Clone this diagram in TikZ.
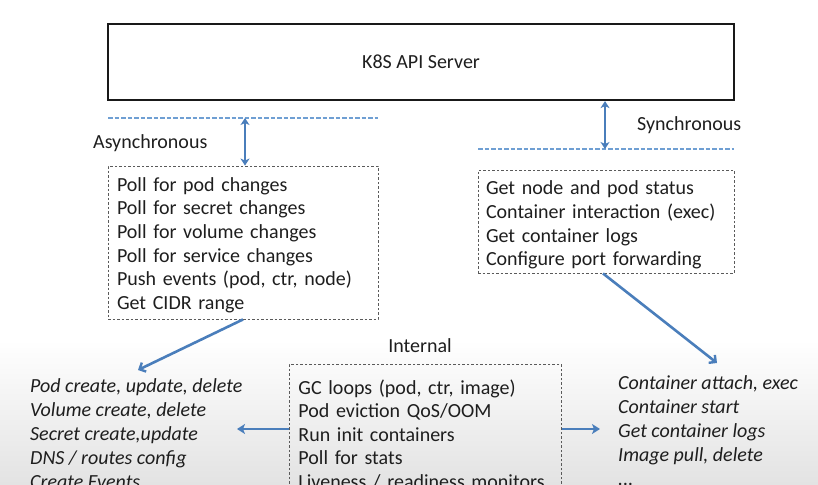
\documentclass[tikz,border=0pt]{standalone}
\usepackage{fontspec}
\setmainfont{Carlito}
\usetikzlibrary{arrows.meta}
\definecolor{arrblue}{HTML}{4A7EBB}
\definecolor{dashblue}{HTML}{6F9FD3}
\definecolor{boxgray}{HTML}{5A5A5A}
\definecolor{txt}{HTML}{1E1E1E}
\begin{document}
\begin{tikzpicture}[x=1pt,y=-1pt,
  every node/.style={text=txt, font=\fontsize{20}{23.6}\selectfont},
  apibox/.style={draw=black!90, line width=2.2pt, minimum width=626pt, minimum height=76pt, inner sep=0pt},
  dbox/.style={draw=boxgray, line width=0.9pt, dash pattern=on 2.5pt off 2pt, align=left, inner ysep=0pt},
  bline/.style={draw=dashblue, line width=2.8pt, dash pattern=on 4.5pt off 2pt},
  arr/.style={draw=arrblue, line width=2.6pt, -{Straight Barb[length=5pt,width=10pt,line width=2.4pt]}},
  harr/.style={draw=arrblue, line width=2.8pt, -{Stealth[length=8pt,width=10pt,inset=2pt]}},
  darr/.style={draw=arrblue, line width=2.4pt, {Stealth[length=7pt,width=9pt,inset=2pt]}-{Stealth[length=7pt,width=9pt,inset=2pt]}},
  lbl/.style={anchor=west, inner sep=0pt},
  ilist/.style={anchor=north west, inner sep=0pt, align=left, font=\fontsize{20}{24}\selectfont\itshape}
]
\useasboundingbox (0,0) rectangle (818,484);
\fill[top color=white, bottom color=black!11, draw=none] (0,340) rectangle (818,484);

% API server
\node[apibox] (api) at (421,62) {K8S API Server};

% asynchronous side
\coordinate (asl) at (108,118);
\coordinate (asr) at (378,118);
\coordinate (asm) at (245,118);
\draw[bline] (asl) -- (asr);
\node[lbl] (async) at (93,143) {Asynchronous};
\node[dbox, minimum width=270pt, minimum height=153pt, text width=252pt, inner xsep=9pt] (poll) at (243,242.5)
  {\rule{0pt}{19pt}Poll for pod changes\\Poll for secret changes\\Poll for volume changes\\Poll for service changes\\Push events (pod, ctr, node)\\Get CIDR range};
\draw[darr] (asm) -- (asm |- poll.north);

% synchronous side
\coordinate (ssl) at (478,149);
\coordinate (ssr) at (734,149);
\coordinate (ssm) at (605,149);
\draw[bline] (ssl) -- (ssr);
\node[lbl] (sync) at (637,125) {Synchronous};
\draw[darr] (api.south -| ssm) -- (ssm);
\node[dbox, minimum width=256pt, minimum height=103pt, text width=240pt, inner xsep=8pt] (syncbox) at (606,221.5)
  {\rule{0pt}{21pt}Get node and pod status\\Container interaction (exec)\\Get container logs\\Configure port forwarding};

% internal
\node[inner sep=0pt] (internal) at (420,346) {Internal};
\node[dbox, anchor=north west, text width=254pt, inner xsep=9pt, inner ysep=8pt, minimum height=140pt] (intbox) at (289,364)
  {GC loops (pod, ctr, image)\\Pod eviction QoS/OOM\\Run init containers\\Poll for stats\\Liveness / readiness monitors};

% italic lists
\node[ilist] (leftlist) at (30,378.5)
  {Pod create, update, delete\\Volume create, delete\\Secret create,update\\DNS / routes config\\Create Events};
\node[ilist] (rightlist) at (618,375.5)
  {Container attach, exec\\Container start\\Get container logs\\Image pull, delete\\...};

% connectors
\coordinate (ltip) at (138,370);
\coordinate (rtip) at (717,363);
\draw[arr] (poll.south) -- (ltip);
\draw[arr] (syncbox.south -| 603,0) -- (rtip);
\coordinate (lh) at (237,429);
\coordinate (rh) at (600,429);
\draw[harr] (intbox.west |- lh) -- (lh);
\draw[harr] (intbox.east |- rh) -- (rh);
\end{tikzpicture}
\end{document}
